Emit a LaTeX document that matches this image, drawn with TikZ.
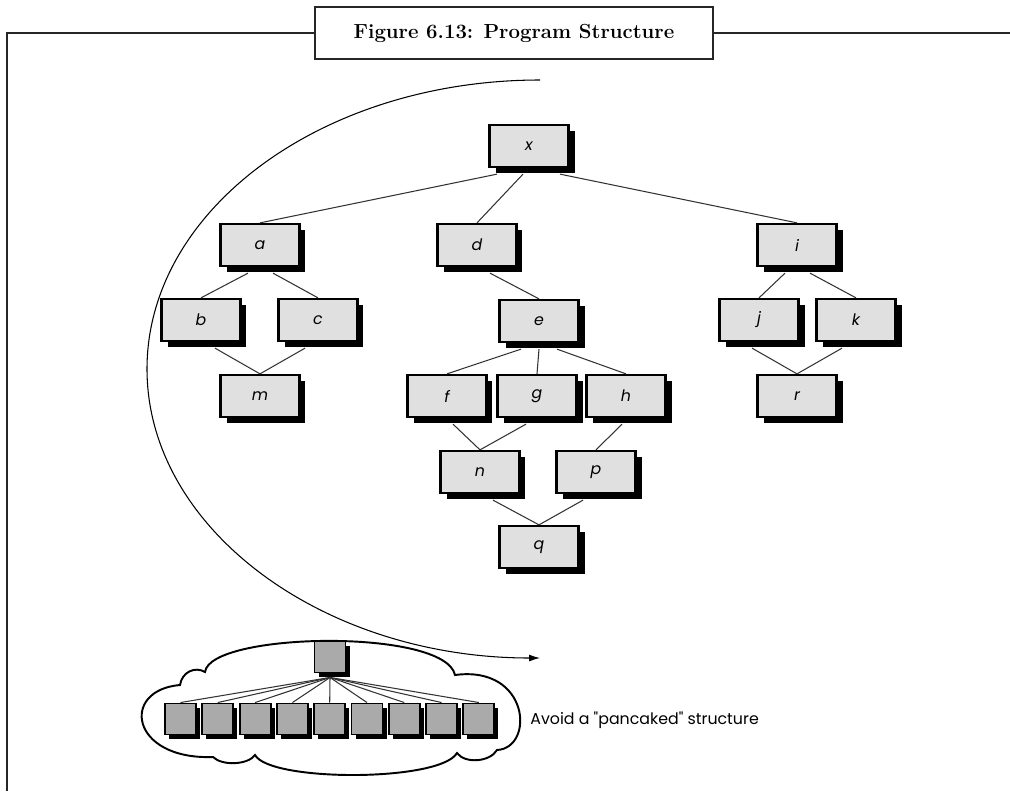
\documentclass[tikz,border=0pt]{standalone}
\usepackage{fontspec}
\newfontfamily\geofont{Poppins}
\usepackage{tikz}
\usetikzlibrary{calc}
\usetikzlibrary{positioning}
\usetikzlibrary{shadows}
\usetikzlibrary{arrows.meta}

\tikzset{
  modbox/.style={draw=black, line width=1.3pt, fill=gray!24, minimum width=1.58cm,
    minimum height=0.84cm, inner sep=0pt, font=\geofont\itshape\small,
    drop shadow={shadow xshift=0.12cm, shadow yshift=-0.12cm, fill=black, opacity=1}},
  tinybox/.style={draw=black, line width=1.1pt, fill=gray!67, minimum size=0.62cm,
    inner sep=0pt,
    drop shadow={shadow xshift=0.08cm, shadow yshift=-0.08cm, fill=black, opacity=1}},
  link/.style={draw=black!80, line width=0.6pt},
}

\begin{document}
\begin{tikzpicture}[x=0.02cm, y=-0.02cm] % y runs downwards
  \useasboundingbox (0,0) rectangle (1010,791);

  % frame with the caption box
  \node [draw=black!85, line width=1.2pt, minimum width=7.96cm, minimum height=1.04cm,
    font=\bfseries\fontsize{11.6}{14}\selectfont] (cap) at (514,33)
    {Figure 6.13: Program Structure};
  \draw [black!85, line width=1.7pt] (cap.west) -- (7,33) -- (7,791);
  \draw [black!85, line width=1.7pt] (cap.east) -- (1010,33);

  % the call tree
  \node [modbox] (x) at (529,146) {x};
  \node [modbox] (a) at (260,245) {a};
  \node [modbox] (d) at (477,245) {d};
  \node [modbox] (i) at (797,245) {i};
  \node [modbox] (b) at (201,320) {b};
  \node [modbox] (c) at (318,320) {c};
  \node [modbox] (e) at (539,321) {e};
  \node [modbox] (j) at (759,320) {j};
  \node [modbox] (k) at (856,320) {k};
  \node [modbox] (m) at (260,396) {m};
  \node [modbox] (f) at (447,396) {f};
  \node [modbox] (g) at (537,396) {g};
  \node [modbox] (h) at (626,396) {h};
  \node [modbox] (r) at (797,396) {r};
  \node [modbox] (n) at (480,472) {n};
  \node [modbox] (p) at (596,472) {p};
  \node [modbox] (q) at (539,547) {q};

  \foreach \from/\dx/\to in {x/-32/a, x/-6/d, x/31/i, a/-12/b, a/13/c, b/14/m, c/-13/m,
      d/13/e, e/-18/f, e/0/g, e/18/h, f/6/n, g/-11/n, h/-4/p, n/13/q, p/-13/q,
      i/-12/j, i/13/k, j/-7/r, k/-14/r}
    \draw [link] ($(\from.south)+(\dx,6)$) -- (\to.north);

  % sweep around the tree
  \draw [line width=0.6pt, -{Latex[length=2.2mm, width=1.4mm]}]
    (540,80) arc [start angle=270, end angle=90, x radius=393, y radius=289];

  % flat structure in a cloud
  \draw [line width=1.1pt]
    (213,757) .. controls (130,760) and (120,690) .. (180,685)
              .. controls (182,672) and (195,666) .. (205,672)
              .. controls (210,632) and (445,628) .. (455,675)
              .. controls (530,665) and (535,748) .. (497,750)
              .. controls (490,762) and (465,764) .. (457,753)
              .. controls (440,782) and (270,782) .. (255,755)
              .. controls (248,765) and (222,766) .. cycle;
  \node [tinybox] (top) at (330,657) {};
  \foreach \k in {1,...,9} {
    \node [tinybox] (t\k) at ({143.2+37.3*\k},719) {};
    \draw [link] ($(top.south)+(0,4)$) -- (t\k.north);
  }
  \node [right, inner sep=0pt, font=\geofont\small] (note) at (530,720)
    {Avoid a "pancaked" structure};

\end{tikzpicture}
\end{document}
